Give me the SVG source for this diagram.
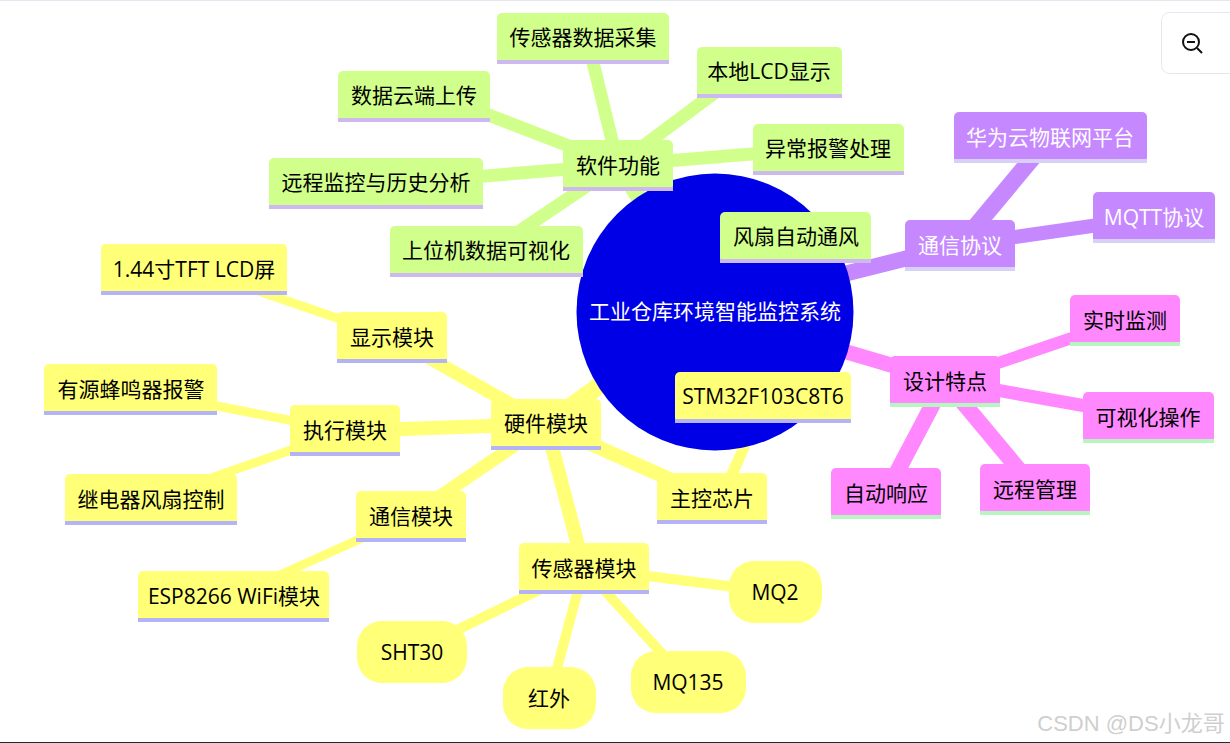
<svg xmlns="http://www.w3.org/2000/svg" width="1230" height="743" viewBox="0 0 1230 743">
<style>
text{font-family:"Open Sans","Noto Sans CJK SC",sans-serif;font-size:21px;text-anchor:middle;fill:#000}
.w{fill:#fff}
.sw rect:first-child{fill:#d1ff8b}.sw .s{fill:#cdb8f0}
.hw rect:first-child,.hw .p{fill:#ffff78}.hw .s{fill:#b3b3f5}
.pu rect:first-child{fill:#c688ff}.pu .s{fill:#d9d0f5}
.pk rect:first-child{fill:#ff88ff}.pk .s{fill:#b8f5c0}
.s{fill-opacity:1}
#connectors path{fill:none;stroke-linecap:butt}
.e1{stroke:#d1ff8b}.e2{stroke:#ffff78}.e3{stroke:#c688ff}.e4{stroke:#ff88ff}
</style>
<rect width="1230" height="743" fill="#fff"/>
<rect width="1230" height="1" fill="#e2e8f0"/>
<rect y="742" width="1230" height="1" fill="#1e293b"/>
<g id="connectors">
<path class="e1" stroke-width="16" d="M650 215L618 165"/>
<path class="e1" stroke-width="13" d="M618 165L590 50"/>
<path class="e1" stroke-width="13" d="M618 165L725 85"/>
<path class="e1" stroke-width="13" d="M618 165L800 150"/>
<path class="e1" stroke-width="13" d="M618 165L450 100"/>
<path class="e1" stroke-width="13" d="M618 165L400 183"/>
<path class="e1" stroke-width="13" d="M618 165L490 251"/>
<path class="e2" stroke-width="17" d="M600 385L546 424"/>
<path class="e2" stroke-width="14" d="M546 424L712 498"/>
<path class="e2" stroke-width="13" d="M546 424L392 337"/>
<path class="e2" stroke-width="14" d="M546 424L345 431"/>
<path class="e2" stroke-width="13" d="M546 424L411 516"/>
<path class="e2" stroke-width="14" d="M546 424L584 568"/>
<path class="e2" stroke-width="11" d="M725 490L745 445"/>
<path class="e2" stroke-width="9" d="M392 337L194 269"/>
<path class="e2" stroke-width="9" d="M345 431L130 389"/>
<path class="e2" stroke-width="9" d="M345 431L151 499"/>
<path class="e2" stroke-width="9" d="M411 516L233 596"/>
<path class="e2" stroke-width="10" d="M584 568L412 652"/>
<path class="e2" stroke-width="10" d="M584 568L549 698"/>
<path class="e2" stroke-width="10" d="M584 568L688 682"/>
<path class="e2" stroke-width="10" d="M584 568L775 592"/>
<path class="e3" stroke-width="16" d="M840 275L960 245"/>
<path class="e3" stroke-width="17" d="M960 245L1050 137"/>
<path class="e3" stroke-width="14" d="M960 245L1154 217"/>
<path class="e4" stroke-width="15" d="M840 350L945 381"/>
<path class="e4" stroke-width="12" d="M945 381L1125 320"/>
<path class="e4" stroke-width="13" d="M945 381L1148 417"/>
<path class="e4" stroke-width="16" d="M945 381L1035 489"/>
<path class="e4" stroke-width="16" d="M945 381L886 493"/>
</g>
<g id="root"><circle cx="715" cy="312" r="138.5" fill="#0000e6"/><text class="w" x="715" y="319">工业仓库环境智能监控系统</text></g>
<g id="n1" class="sw"><rect x="563" y="140" width="110" height="51" rx="5"/><rect class="s" x="563" y="187" width="110" height="4"/><text x="618" y="173">软件功能</text></g>
<g id="n2" class="sw"><rect x="720" y="212" width="151" height="51" rx="5"/><rect class="s" x="720" y="259" width="151" height="4"/><text x="796" y="244">风扇自动通风</text></g>
<g id="n3" class="sw"><rect x="753" y="124" width="151" height="51" rx="5"/><rect class="s" x="753" y="171" width="151" height="4"/><text x="828" y="156">异常报警处理</text></g>
<g id="n4" class="sw"><rect x="497" y="13" width="172" height="51" rx="5"/><rect class="s" x="497" y="60" width="172" height="4"/><text x="583" y="45">传感器数据采集</text></g>
<g id="n5" class="sw"><rect x="697" y="47" width="145" height="51" rx="5"/><rect class="s" x="697" y="94" width="145" height="4"/><text x="769" y="79">本地LCD显示</text></g>
<g id="n6" class="sw"><rect x="338" y="71" width="152" height="51" rx="5"/><rect class="s" x="338" y="118" width="152" height="4"/><text x="414" y="103">数据云端上传</text></g>
<g id="n7" class="sw"><rect x="269" y="158" width="214" height="51" rx="5"/><rect class="s" x="269" y="205" width="214" height="4"/><text x="376" y="190">远程监控与历史分析</text></g>
<g id="n8" class="sw"><rect x="390" y="226" width="193" height="51" rx="5"/><rect class="s" x="390" y="273" width="193" height="4"/><text x="486" y="258">上位机数据可视化</text></g>
<g id="n9" class="pu"><rect x="954" y="112" width="193" height="51" rx="5"/><rect class="s" x="954" y="159" width="193" height="4"/><text class="w" x="1050" y="145">华为云物联网平台</text></g>
<g id="n10" class="pu"><rect x="1093" y="192" width="122" height="51" rx="5"/><rect class="s" x="1093" y="239" width="122" height="4"/><text class="w" x="1154" y="225">MQTT协议</text></g>
<g id="n11" class="pu"><rect x="905" y="220" width="110" height="51" rx="5"/><rect class="s" x="905" y="267" width="110" height="4"/><text class="w" x="960" y="253">通信协议</text></g>
<g id="n12" class="pk"><rect x="890" y="356" width="110" height="51" rx="5"/><rect class="s" x="890" y="403" width="110" height="4"/><text x="945" y="389">设计特点</text></g>
<g id="n13" class="pk"><rect x="1070" y="295" width="110" height="51" rx="5"/><rect class="s" x="1070" y="342" width="110" height="4"/><text x="1125" y="328">实时监测</text></g>
<g id="n14" class="pk"><rect x="1083" y="392" width="131" height="51" rx="5"/><rect class="s" x="1083" y="439" width="131" height="4"/><text x="1148" y="425">可视化操作</text></g>
<g id="n15" class="pk"><rect x="980" y="464" width="110" height="51" rx="5"/><rect class="s" x="980" y="511" width="110" height="4"/><text x="1035" y="497">远程管理</text></g>
<g id="n16" class="pk"><rect x="831" y="468" width="110" height="51" rx="5"/><rect class="s" x="831" y="515" width="110" height="4"/><text x="886" y="501">自动响应</text></g>
<g id="n17" class="hw"><rect x="491" y="399" width="110" height="51" rx="5"/><rect class="s" x="491" y="446" width="110" height="4"/><text x="546" y="431">硬件模块</text></g>
<g id="n18" class="hw"><rect x="675" y="372" width="176" height="51" rx="5"/><rect class="s" x="675" y="419" width="176" height="4"/><text x="763" y="404">STM32F103C8T6</text></g>
<g id="n19" class="hw"><rect x="657" y="473" width="110" height="51" rx="5"/><rect class="s" x="657" y="520" width="110" height="4"/><text x="712" y="506">主控芯片</text></g>
<g id="n20" class="hw"><rect x="519" y="543" width="130" height="51" rx="5"/><rect class="s" x="519" y="590" width="130" height="4"/><text x="584" y="576">传感器模块</text></g>
<g id="n21" class="hw"><rect x="356" y="491" width="110" height="51" rx="5"/><rect class="s" x="356" y="538" width="110" height="4"/><text x="411" y="524">通信模块</text></g>
<g id="n22" class="hw"><rect x="138" y="571" width="191" height="51" rx="5"/><rect class="s" x="138" y="618" width="191" height="4"/><text x="234" y="604">ESP8266 WiFi模块</text></g>
<g id="n23" class="hw"><rect x="337" y="312" width="110" height="51" rx="5"/><rect class="s" x="337" y="359" width="110" height="4"/><text x="392" y="345">显示模块</text></g>
<g id="n24" class="hw"><rect x="101" y="244" width="186" height="51" rx="5"/><rect class="s" x="101" y="291" width="186" height="4"/><text x="194" y="277">1.44寸TFT LCD屏</text></g>
<g id="n25" class="hw"><rect x="290" y="405" width="110" height="51" rx="5"/><rect class="s" x="290" y="452" width="110" height="4"/><text x="345" y="438">执行模块</text></g>
<g id="n26" class="hw"><rect x="44" y="364" width="173" height="51" rx="5"/><rect class="s" x="44" y="411" width="173" height="4"/><text x="131" y="397">有源蜂鸣器报警</text></g>
<g id="n27" class="hw"><rect x="65" y="474" width="172" height="51" rx="5"/><rect class="s" x="65" y="521" width="172" height="4"/><text x="151" y="507">继电器风扇控制</text></g>
<g id="n28" class="hw"><rect class="p" x="729" y="561" width="93" height="62" rx="25"/><text x="775" y="600">MQ2</text></g>
<g id="n29" class="hw"><rect class="p" x="357" y="621" width="110" height="62" rx="25"/><text x="412" y="660">SHT30</text></g>
<g id="n30" class="hw"><rect class="p" x="503" y="667" width="93" height="62" rx="25"/><text x="549" y="706">红外</text></g>
<g id="n31" class="hw"><rect class="p" x="631" y="651" width="115" height="62" rx="25"/><text x="688" y="690">MQ135</text></g>
<g id="zoom-button"><rect x="1161.500" y="12.500" width="90" height="61" rx="8" fill="#fff" stroke="#e5e7eb"/><circle cx="1191" cy="42" r="8" fill="none" stroke="#111" stroke-width="2"/><path d="M1187 42h8M1197 48l5 5" fill="none" stroke="#111" stroke-width="2"/></g>
<text id="watermark" x="1131" y="731" style="font-family:'Liberation Sans','Noto Sans CJK SC',sans-serif;font-size:22px;fill:#cfcfcf">CSDN @DS小龙哥</text>
</svg>
